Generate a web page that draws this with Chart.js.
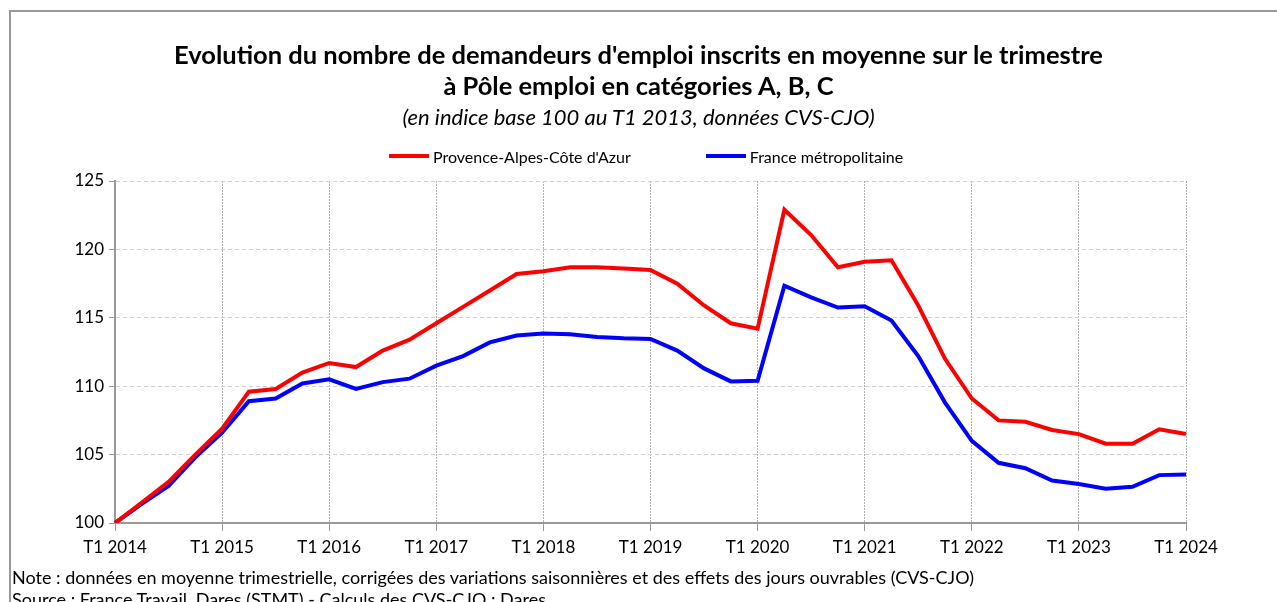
<!DOCTYPE html>
<html>
<head>
<meta charset="utf-8">
<script src="https://cdn.jsdelivr.net/npm/chart.js@4/dist/chart.umd.min.js"></script>
<style>
    html, body { margin: 0; padding: 0; background: #fff; overflow: hidden; }
    #wrap { position: relative; width: 1277px; height: 602px; font-family: Lato, 'Open Sans', sans-serif; color: #000; }
    #frame { position: absolute; left: 9px; top: 10px; width: 1300px; height: 700px;
             border-top: 2px solid #999; border-left: 2px solid #999; }
    #myChart { position: absolute; left: 0; top: 0; }
    #titre { position: absolute; left: 0; width: 1277px; top: 39px; text-align: center;
             font-size: 25.5px; font-weight: bold; line-height: 31px; }
    #soustitre { position: absolute; left: 0; width: 1277px; top: 105px; text-align: center;
                 font-size: 22px; font-style: italic; line-height: 24px; }
    .note { position: absolute; left: 12px; font-size: 18px; white-space: nowrap; }
    #legende { position: absolute; left: 389px; top: 145px; height: 22px;
               display: flex; align-items: center; gap: 75px; font-size: 16px; }
    .item { display: flex; align-items: center; white-space: nowrap; }
    .trait { display: inline-block; width: 40px; height: 4px; margin-right: 4px; }
</style>
</head>
<body>
<div id="wrap">
    <div id="frame"></div>
    <canvas id="myChart" width="1277" height="602"></canvas>
    <div id="titre">Evolution du nombre de demandeurs d'emploi inscrits en moyenne sur le trimestre<br>à Pôle emploi en catégories A, B, C</div>
    <div id="soustitre">(en indice base 100 au T1 2013, données CVS-CJO)</div>
    <div id="legende"></div>
    <div class="note" style="top:566px">Note : données en moyenne trimestrielle, corrigées des variations saisonnières et des effets des jours ouvrables (CVS-CJO)</div>
    <div class="note" style="top:588px">Source : France Travail, Dares (STMT) - Calculs des CVS-CJO : Dares</div>
</div>
<script>
// trimestres T1 2014 .. T1 2024
const trimestres = [];
for (let an = 2014; an <= 2024; an++) {
    for (let t = 1; t <= 4; t++) {
        if (an === 2024 && t > 1) break;
        trimestres.push('T' + t + ' ' + an);
    }
}

const paca = [
    100.0, 101.5, 103.0, 105.0, 106.9, 109.6, 109.8, 111.0, 111.7, 111.4,
    112.6, 113.4, 114.6, 115.8, 117.0, 118.2, 118.4, 118.7, 118.7, 118.6,
    118.5, 117.5, 115.9, 114.6, 114.2, 122.9, 121.05, 118.7, 119.1, 119.2,
    115.9, 112.0, 109.1, 107.5, 107.4, 106.8, 106.5, 105.8, 105.8, 106.85,
    106.5
];

const france = [
    100.0, 101.4, 102.7, 104.8, 106.6, 108.9, 109.1, 110.2, 110.5, 109.8,
    110.3, 110.55, 111.5, 112.2, 113.2, 113.7, 113.85, 113.8, 113.6, 113.5,
    113.45, 112.6, 111.3, 110.35, 110.4, 117.35, 116.5, 115.75, 115.85, 114.8,
    112.2, 108.8, 106.0, 104.4, 104.0, 103.1, 102.85, 102.5, 102.65, 103.5,
    103.55
];

const yTicks = [100, 105, 110, 115, 120, 125];

const police = "Lato, 'Open Sans', sans-serif";

let ctx = document.getElementById('myChart');
let myChart = new Chart(ctx, {
    type: 'line',
    data: {
        labels: trimestres,
        datasets: [{
            label: "Provence-Alpes-Côte d'Azur",
            data: paca,
            borderColor: '#ff0000',
            backgroundColor: '#ff0000',
            borderWidth: 4,
            pointRadius: 0,
            tension: 0
        }, {
            label: 'France métropolitaine',
            data: france,
            borderColor: '#0000ff',
            backgroundColor: '#0000ff',
            borderWidth: 4,
            pointRadius: 0,
            tension: 0
        }]
    },
    options: {
        responsive: false,
        animation: false,
        layout: { padding: { left: 0, right: 91, top: 181, bottom: 0 } },
        scales: {
            x: {
                offset: false,
                afterFit: (s) => { s.height = 79; },
                ticks: {
                    autoSkip: false,
                    maxRotation: 0,
                    padding: 6,
                    color: '#000',
                    font: { family: police, size: 17 },
                    callback: function(val, i) {
                        return i % 4 === 0 ? this.getLabelForValue(val) : '';
                    }
                },
                grid: {
                    color: (c) => c.index % 4 === 0 ? '#b0b0b0' : 'rgba(0,0,0,0)',
                    lineWidth: 1,
                    tickLength: 8,
                    tickColor: (c) => c.index % 4 === 0 ? '#999' : 'rgba(0,0,0,0)'
                },
                border: { color: '#999', width: 2, dash: [2, 1] }
            },
            y: {
                min: 100,
                max: 125,
                afterFit: (s) => { s.width = 115; },
                afterBuildTicks: (s) => { s.ticks = yTicks.map(v => ({ value: v })); },
                ticks: {
                    padding: 5,
                    color: '#000',
                    font: { family: police, size: 17 }
                },
                grid: {
                    color: '#d0d0d0',
                    lineWidth: 1,
                    tickLength: 6,
                    tickColor: '#999'
                },
                border: { color: '#999', width: 2, dash: [4, 3] }
            }
        },
        plugins: {
            title: { display: false },
            legend: { display: false },
            tooltip: { enabled: false }
        }
    }
});

// legende HTML (ecart entre les deux items comme sur l'original)
const leg = document.getElementById('legende');
myChart.data.datasets.forEach(ds => {
    const it = document.createElement('span');
    it.className = 'item';
    const tr = document.createElement('span');
    tr.className = 'trait';
    tr.style.background = ds.borderColor;
    it.appendChild(tr);
    it.appendChild(document.createTextNode(ds.label));
    leg.appendChild(it);
});
</script>
</body>
</html>
